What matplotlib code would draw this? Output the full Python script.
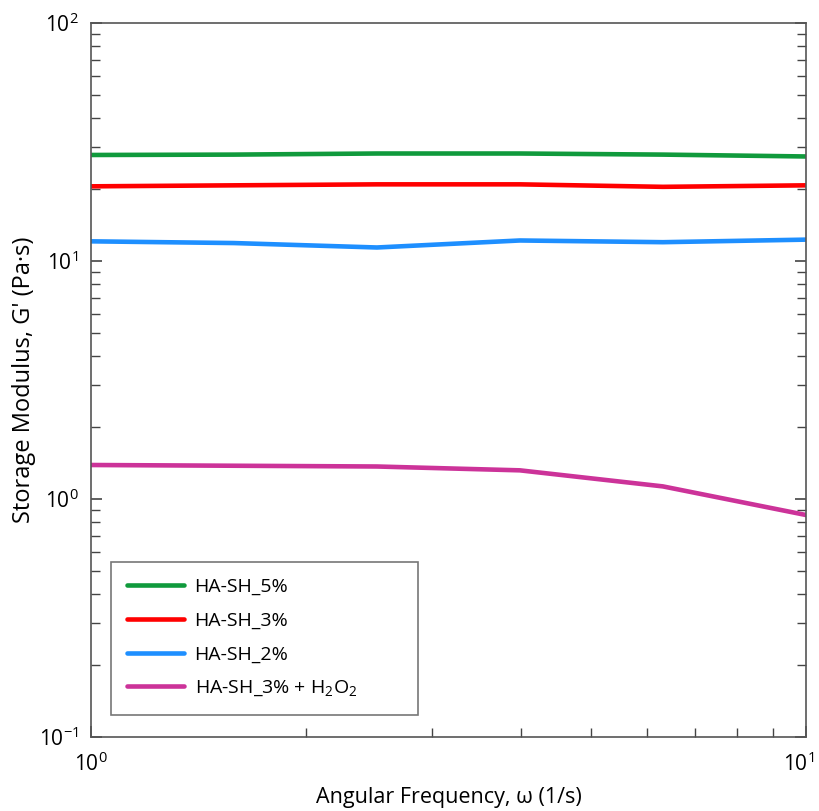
import numpy as np
import matplotlib; matplotlib.use('Agg')
import matplotlib.pyplot as plt
import matplotlib.transforms as mtrans
from matplotlib.ticker import LogLocator, NullFormatter

plt.rcParams['font.family'] = ['Open Sans', 'DejaVu Sans']
plt.rcParams['mathtext.fontset'] = 'custom'
plt.rcParams['mathtext.rm'] = 'Open Sans'
plt.rcParams['mathtext.it'] = 'Open Sans'

# angular frequency (1/s)
freq = [1.0, 1.585, 2.512, 3.981, 6.310, 10.0]

# storage modulus G' (Pa)
g_5 = [27.9, 28.0, 28.3, 28.3, 28.0, 27.5]
g_3 = [20.6, 20.8, 21.0, 21.0, 20.5, 20.8]
g_2 = [12.1, 11.9, 11.4, 12.2, 12.0, 12.3]
g_3_h2o2 = [1.39, 1.38, 1.37, 1.32, 1.13, 0.857]

labels = ['HA-SH_5%', 'HA-SH_3%', 'HA-SH_2%', r'HA-SH_3% + H$_2$O$_2$']
colors = ['#109a3c', '#ff0000', '#1e8fff', '#cc3399']

x_ticks = [1, 10]
x_ticklabels = [r'$10^{0}$', r'$10^{1}$']
y_ticks = [0.1, 1, 10, 100]
y_ticklabels = [r'$10^{-1}$', r'$10^{0}$', r'$10^{1}$', r'$10^{2}$']

fig = plt.figure(figsize=(8.19, 8.11), dpi=100)
ax = fig.add_axes([0.111, 0.0912, 0.873, 0.8804])

for ys, lab, c in zip([g_5, g_3, g_2, g_3_h2o2], labels, colors):
    ax.plot(freq, ys, color=c, lw=3.3, label=lab, solid_capstyle='round')

ax.set_xscale('log'); ax.set_yscale('log')
ax.set_xticks(x_ticks, labels=x_ticklabels)
ax.set_yticks(y_ticks, labels=y_ticklabels)
ax.set_xlim(1, 10); ax.set_ylim(0.1, 100)
ax.xaxis.set_minor_formatter(NullFormatter())
ax.yaxis.set_minor_formatter(NullFormatter())
ax.yaxis.set_minor_locator(LogLocator(base=10, subs=np.arange(2, 10)))
ax.xaxis.set_minor_locator(LogLocator(base=10, subs=np.arange(2, 10)))

ax.tick_params(which='both', direction='in', right=True, top=False, color='#444444')
ax.tick_params(which='major', length=8, width=1.2, labelsize=15)
ax.tick_params(which='minor', length=6.5, width=1.0)
ax.tick_params(axis='x', which='major', pad=11)
ax.tick_params(axis='y', which='major', pad=9)
for s in ax.spines.values():
    s.set_color('#555555'); s.set_linewidth(1.2)

ax.set_xlabel('Angular Frequency, ω (1/s)', fontsize=15.5, labelpad=8)
ax.set_ylabel("Storage Modulus, G' (Pa·s)", fontsize=17, labelpad=2)

# keep the last x label inside the figure
lbl = ax.xaxis.get_major_ticks()[-1].label1
lbl.set_transform(lbl.get_transform() + mtrans.ScaledTranslation(-7/100, 0, fig.dpi_scale_trans))

leg = ax.legend(loc='lower left', bbox_to_anchor=(0.028, 0.031, 0.429, 0.2), mode='expand',
                fontsize=14, frameon=True, fancybox=False, handlelength=2.9,
                handletextpad=0.55, borderpad=0.85, labelspacing=0.8, borderaxespad=0)
leg.get_frame().set_edgecolor('#555555')
leg.get_frame().set_linewidth(1.2)

plt.savefig('out.png', dpi=100)
